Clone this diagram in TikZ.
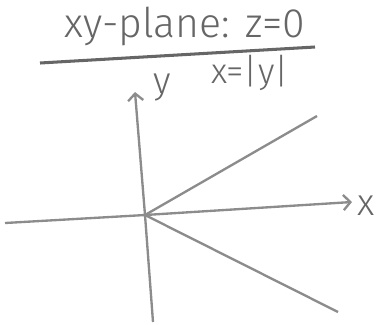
\documentclass[tikz,border=0pt]{standalone}
\usepackage{fontspec}
\setmainfont{Fira Sans Light}
\usetikzlibrary{arrows.meta}
\begin{document}
\begin{tikzpicture}[x=0.03cm,y=-0.03cm,line width=2pt,draw=black!45,text=black!60,
  >={Straight Barb[length=6pt,width=13pt]}]
\useasboundingbox (0,0) rectangle (377,324);
\node[font=\fontsize{35}{35}\selectfont] (title) at (185,26) {xy-plane: z=0};
\node[font=\fontsize{30}{30}\selectfont] (eq) at (250,73) {x=|y|};
\node[font=\fontsize{32}{32}\selectfont] (ylab) at (162,88) {y};
\node[font=\fontsize{32}{32}\selectfont] (xlab) at (366,206) {x};

\coordinate (o) at (145,215);
\coordinate (ul) at (40,63);
\coordinate (ur) at (315,47);
\coordinate (xl) at (5,223);
\coordinate (xr) at (352,202);
\coordinate (yb) at (153,322);
\coordinate (yt) at (135,92);
\coordinate (r1) at (317,116);
\coordinate (r2) at (338,312);

\draw[line width=2.6pt,draw=black!60] (ul) -- (ur);
\draw[->] (xl) -- (o) -- (xr);
\draw[->] (yb) -- (o) -- (yt);
\draw (o) -- (r1);
\draw (o) -- (r2);
\end{tikzpicture}
\end{document}
